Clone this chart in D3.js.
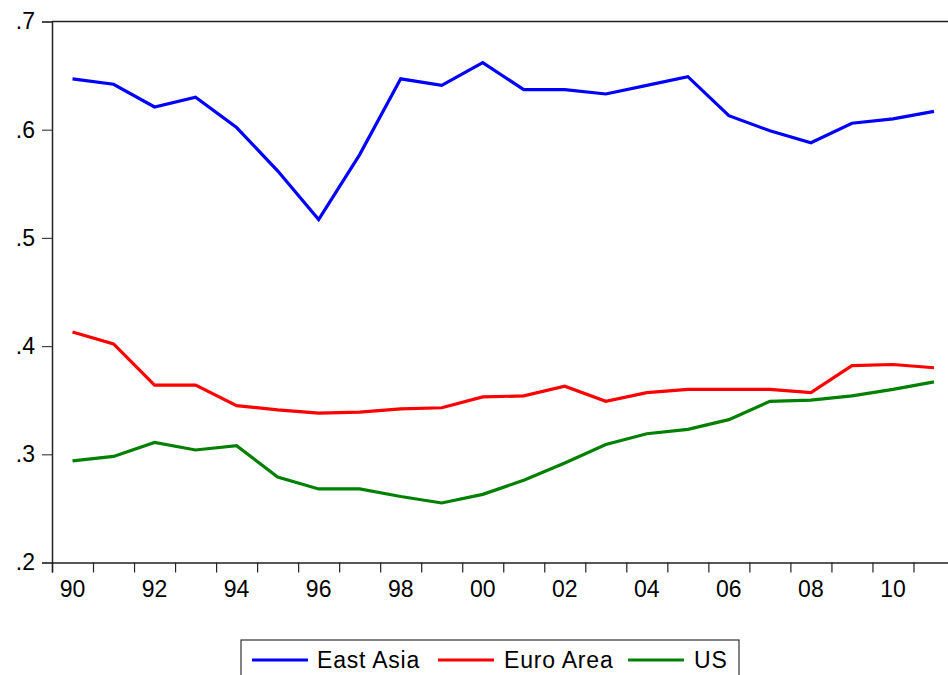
<!DOCTYPE html>
<html>
<head>
<meta charset="utf-8">
<script src="https://cdn.jsdelivr.net/npm/d3@7"></script>
<style>
  html, body { margin: 0; padding: 0; background: #fff; overflow: hidden; }
  svg { display: block; }
  text { font-family: "Liberation Sans", Arial, sans-serif; fill: #000; }
</style>
</head>
<body>
<svg id="chart" width="948" height="675"></svg>
<script>
const years = d3.range(1990, 2012);
const eastAsia = [0.647, 0.642, 0.621, 0.630, 0.602, 0.562, 0.517, 0.577, 0.647, 0.641, 0.662,
                  0.637, 0.637, 0.633, 0.641, 0.649, 0.613, 0.599, 0.588, 0.606, 0.610, 0.617];
const euroArea = [0.413, 0.402, 0.364, 0.364, 0.345, 0.341, 0.338, 0.339, 0.342, 0.343, 0.353,
                  0.354, 0.363, 0.349, 0.357, 0.360, 0.360, 0.360, 0.357, 0.382, 0.383, 0.380];
const us = [0.294, 0.298, 0.311, 0.304, 0.308, 0.279, 0.268, 0.268, 0.261, 0.255, 0.263,
            0.276, 0.292, 0.309, 0.319, 0.323, 0.332, 0.349, 0.350, 0.354, 0.360, 0.367];
const yTicks = [0.2, 0.3, 0.4, 0.5, 0.6, 0.7];
const xLabelYears = [1990, 1992, 1994, 1996, 1998, 2000, 2002, 2004, 2006, 2008, 2010];
const seriesNames = ["East Asia", "Euro Area", "US"];
const seriesColors = ["#0000ff", "#ff0000", "#008000"];
const seriesData = [eastAsia, euroArea, us];

const svg = d3.select("#chart");
const mLeft = 52, mTop = 21.5, mBottom = 562.5, mRight = 954.5;

const x = d3.scaleLinear().domain([1990, 2012]).range([mLeft, mRight]);
const y = d3.scaleLinear().domain([0.2, 0.7]).range([mBottom, mTop]);

// frame (top, left, bottom)
const frameColor = "#222";
svg.append("line").attr("x1", mLeft).attr("x2", mRight).attr("y1", mTop).attr("y2", mTop)
  .attr("stroke", frameColor).attr("stroke-width", 1.5);

// Y axis
const yAxis = d3.axisLeft(y).tickValues(yTicks).tickSize(10).tickPadding(7)
  .tickFormat(d => d3.format(".1f")(d).replace(/^0/, ""));
const gy = svg.append("g").attr("transform", `translate(${mLeft},0)`).call(yAxis);
gy.select(".domain").attr("stroke", frameColor).attr("stroke-width", 1.5);
gy.selectAll(".tick line").attr("stroke", "#444").attr("stroke-width", 1.2);
gy.selectAll(".tick text").attr("font-size", 23).attr("font-family", "Liberation Sans, Arial, sans-serif").attr("fill", "#000");

// X axis: ticks at year boundaries, labels centered on the year
const xAxis = d3.axisBottom(x).tickValues(d3.range(1990, 2013)).tickSize(10).tickFormat("");
const gx = svg.append("g").attr("transform", `translate(0,${mBottom})`).call(xAxis);
gx.select(".domain").attr("stroke", frameColor).attr("stroke-width", 1.5);
gx.selectAll(".tick line").attr("stroke", "#222").attr("stroke-width", 1.2);

svg.append("g").selectAll("text").data(xLabelYears).join("text")
  .attr("x", d => x(d + 0.5))
  .attr("y", mBottom + 34)
  .attr("text-anchor", "middle")
  .attr("font-size", 23)
  .text(d => String(d % 100).padStart(2, "0"));

// lines
const line = d3.line().x((d, i) => x(years[i] + 0.5)).y(d => y(d));
seriesData.forEach((s, k) => {
  svg.append("path").datum(s).attr("d", line)
    .attr("fill", "none").attr("stroke", seriesColors[k])
    .attr("stroke-width", 3.2).attr("stroke-linejoin", "miter");
});

// legend
const lg = svg.append("g");
lg.append("rect").attr("x", 241).attr("y", 640).attr("width", 498).attr("height", 50)
  .attr("fill", "#fff").attr("stroke", "#333").attr("stroke-width", 1.2);
const items = [
  { lx: 252, tx: 317 },
  { lx: 438, tx: 504 },
  { lx: 628, tx: 694 }
];
items.forEach((it, k) => {
  lg.append("line").attr("x1", it.lx).attr("x2", it.lx + 56).attr("y1", 660).attr("y2", 660)
    .attr("stroke", seriesColors[k]).attr("stroke-width", 3.2);
  lg.append("text").attr("x", it.tx).attr("y", 668).attr("font-size", 23)
    .attr("letter-spacing", 0.8).text(seriesNames[k]);
});
</script>
</body>
</html>
